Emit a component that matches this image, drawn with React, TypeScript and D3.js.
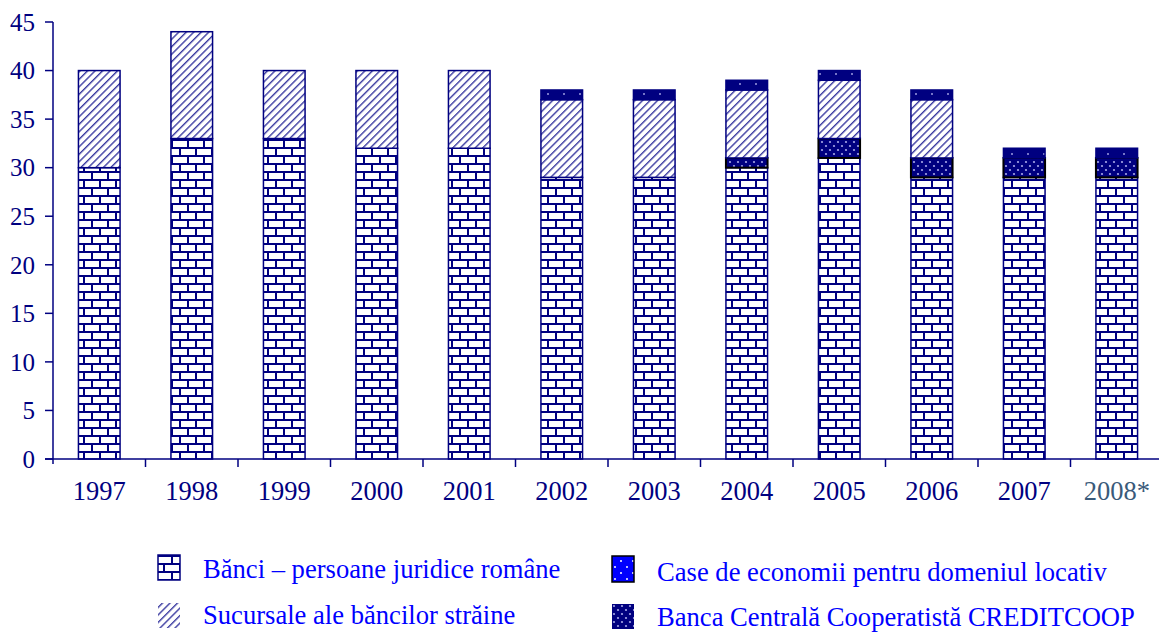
import React from "react";
import * as d3 from "d3";

const years = ["1997", "1998", "1999", "2000", "2001", "2002", "2003", "2004", "2005", "2006", "2007", "2008*"];
const banci = [30, 33, 33, 32, 32, 29, 29, 30, 31, 29, 29, 29];
const creditcoop = [0, 0, 0, 0, 0, 0, 0, 1, 2, 2, 2, 2];
const sucursale = [10, 11, 7, 8, 8, 8, 8, 7, 6, 6, 0, 0];
const caseEcon = [0, 0, 0, 0, 0, 1, 1, 1, 1, 1, 1, 1];
const yTicks = [0, 5, 10, 15, 20, 25, 30, 35, 40, 45];

const seriesKeys = ["banci", "creditcoop", "sucursale", "case"];
const seriesFill: Record<string, string> = {
  banci: "url(#brick)",
  creditcoop: "url(#dense)",
  sucursale: "url(#hatch)",
  case: "url(#sparse)",
};
const seriesStroke: Record<string, string> = {
  banci: "#000080",
  creditcoop: "#000000",
  sucursale: "#000080",
  case: "#000080",
};

const NAVY = "#000080";

export default function App() {
  const W = 1159, H = 633;
  const x0 = 53, xBand = 92.5;
  const x = d3.scaleBand<string>().domain(years).range([x0, x0 + xBand * years.length]).paddingInner(0.55).paddingOuter(0.275);
  const xb = d3.scaleBand<string>().domain(years).range([x0, x0 + xBand * years.length]);
  const y = d3.scaleLinear().domain([0, 45]).range([459, 22]);

  const table = years.map((yr, i) => ({
    year: yr,
    banci: banci[i],
    creditcoop: creditcoop[i],
    sucursale: sucursale[i],
    case: caseEcon[i],
  }));
  const stacked = d3.stack<any>().keys(seriesKeys)(table);
  const font = "'Liberation Serif', 'Times New Roman', Times, serif";

  const legend = [
    { key: "banci", label: "Bănci – persoane juridice române", x: 158, y: 555, h: 25, fill: "url(#brick)", stroke: NAVY, ty: 578 },
    { key: "sucursale", label: "Sucursale ale băncilor străine", x: 158, y: 603, h: 25, fill: "url(#hatch)", stroke: "none", ty: 624 },
    { key: "case", label: "Case de economii pentru domeniul locativ", x: 612, y: 556, h: 26, fill: "url(#sparseBlue)", stroke: "#000", ty: 581 },
    { key: "creditcoop", label: "Banca Centrală Cooperatistă CREDITCOOP", x: 612, y: 604, h: 25, fill: "url(#dense)", stroke: "none", ty: 626 },
  ];

  return (
    <svg width={W} height={H} style={{ position: "absolute", left: 0, top: 0, background: "#fff" }}>
      <defs>
        <pattern id="brick" width="16" height="16" patternUnits="userSpaceOnUse" x="0" y="3">
          <rect width="16" height="16" fill="#fff" />
          <line x1="0" y1="1" x2="16" y2="1" stroke={NAVY} strokeWidth="2" />
          <line x1="0" y1="9" x2="16" y2="9" stroke={NAVY} strokeWidth="2" />
          <line x1="4" y1="1" x2="4" y2="9" stroke={NAVY} strokeWidth="2" />
          <line x1="12" y1="9" x2="12" y2="17" stroke={NAVY} strokeWidth="2" />
        </pattern>
        <pattern id="hatch" width="5.3" height="5.3" patternUnits="userSpaceOnUse" patternTransform="rotate(45)">
          <rect width="5.3" height="5.3" fill="#fff" />
          <line x1="0" y1="0" x2="0" y2="5.3" stroke="#3a3aa0" strokeWidth="2.8" />
        </pattern>
        <pattern id="sparse" width="16" height="10" patternUnits="userSpaceOnUse">
          <rect width="16" height="10" fill={NAVY} />
          <circle cx="4" cy="4" r="1" fill="#9c9ce0" />
        </pattern>
        <pattern id="sparseBlue" width="12" height="12" patternUnits="userSpaceOnUse">
          <rect width="12" height="12" fill="#0000ff" />
          <circle cx="3" cy="3" r="1" fill="#fff" />
          <circle cx="9" cy="9" r="1" fill="#fff" />
        </pattern>
        <pattern id="dense" width="8" height="8" patternUnits="userSpaceOnUse">
          <rect width="8" height="8" fill={NAVY} />
          <circle cx="2" cy="2" r="1.1" fill="#a8a8e8" />
          <circle cx="6" cy="6" r="1.1" fill="#a8a8e8" />
        </pattern>
      </defs>

      {stacked.map((s) => (
        <g key={s.key}>
          {s.map((d, i) => {
            const h = y(d[0]) - y(d[1]);
            if (h <= 0) return null;
            return (
              <rect
                key={i}
                x={x(years[i])!}
                y={y(d[1])}
                width={x.bandwidth()}
                height={h}
                fill={seriesFill[s.key]}
                stroke={seriesStroke[s.key]}
                strokeWidth={s.key === "creditcoop" ? 2 : 1.5}
              />
            );
          })}
        </g>
      ))}

      {/* Y axis */}
      <line x1={53} x2={53} y1={y(45)} y2={y(0) + 5} stroke={NAVY} strokeWidth={1.5} />
      {yTicks.map((t) => (
        <g key={t}>
          <line x1={45} x2={53} y1={y(t)} y2={y(t)} stroke={NAVY} strokeWidth={1.5} />
          <text x={35} y={y(t)} dy="0.35em" textAnchor="end" fontFamily={font} fontSize={25} fill={NAVY}>
            {t}
          </text>
        </g>
      ))}
      {/* X axis */}
      <line x1={45} x2={W} y1={y(0)} y2={y(0)} stroke={NAVY} strokeWidth={1.5} />
      {years.slice(1).map((yr) => (
        <line key={yr} x1={xb(yr)!} x2={xb(yr)!} y1={y(0)} y2={y(0) + 8} stroke={NAVY} strokeWidth={1.5} />
      ))}
      {years.map((yr) => (
        <text
          key={yr}
          x={xb(yr)! + xb.bandwidth() / 2}
          y={500}
          textAnchor="middle"
          fontFamily={font}
          fontSize={26.5}
          fill={yr === "2008*" ? "#3a5a7a" : NAVY}
        >
          {yr}
        </text>
      ))}

      {/* Legend */}
      {legend.map((l) => (
        <g key={l.key}>
          <rect x={l.x} y={l.y} width={22} height={l.h} fill={l.fill} stroke={l.stroke} strokeWidth={1.5} />
          <text x={l.x + 45} y={l.ty} fontFamily={font} fontSize={26.6} fill="#0000ff">
            {l.label}
          </text>
        </g>
      ))}
    </svg>
  );
}
